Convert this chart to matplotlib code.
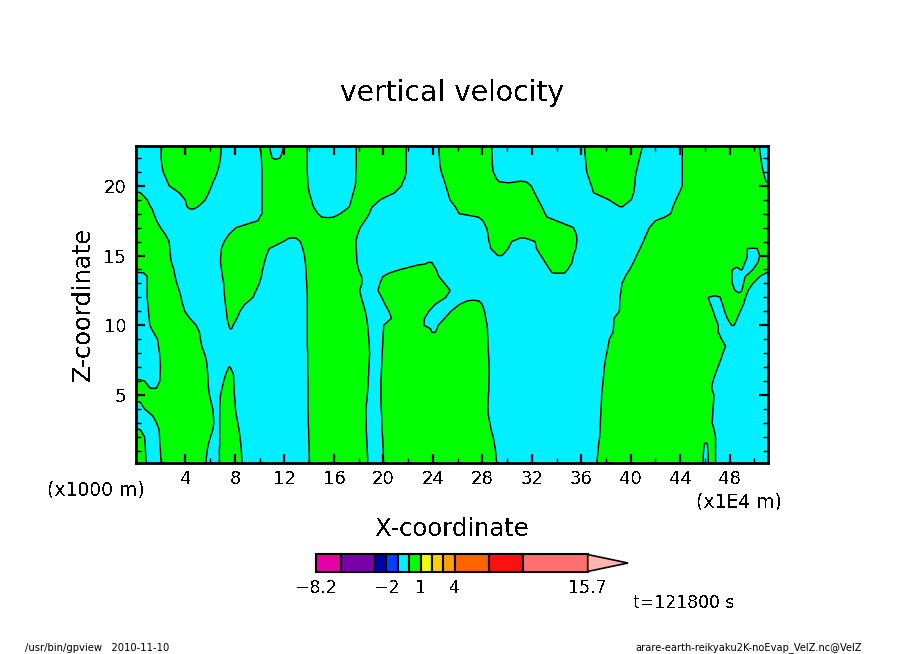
import numpy as np
import matplotlib
matplotlib.use("Agg")
import matplotlib.pyplot as plt

plt.rcParams['text.antialiased'] = False

# heights of the rows
z_rows = [22.85, 22.5, 22, 21.5, 21, 20.5, 20.29, 20, 19.5, 19, 18.5, 18.35, 18, 17.75, 17.5, 17, 16.5, 16.25, 16,
          15.5, 15, 14.75, 14.5, 14, 13.75, 13.5, 13, 12.5, 12, 11.75, 11.5, 11, 10.5, 10, 9.75, 9.5, 9, 8.5, 8,
          7.5, 7, 6.5, 6, 5.5, 5, 4.5, 4, 3.5, 3, 2.5, 2, 1.5, 1, 0.5, 0.125]

# for each row: where the field is positive (start, end, start, end, ...) in x
positive_spans = [
    [2.03, 6.88, 10.0, 10.78, 11.94, 13.83, 17.81, 21.85, 24.46, 28.77, 36.26, 40.94, 44.17, 50.39],
    [2.03, 6.88, 10.08, 10.86, 11.86, 13.85, 17.81, 21.85, 24.49, 28.77, 36.28, 40.86, 44.17, 50.44],
    [2.03, 6.83, 10.14, 11.0, 11.65, 13.85, 17.81, 21.85, 24.54, 28.8, 36.34, 40.72, 44.17, 50.52],
    [2.09, 6.74, 10.16, 13.85, 17.81, 21.85, 24.57, 28.82, 36.39, 40.59, 44.17, 50.6],
    [2.19, 6.58, 10.19, 13.85, 17.78, 21.85, 24.68, 28.88, 36.44, 40.45, 44.17, 50.71],
    [2.44, 6.37, 10.19, 13.88, 17.76, 21.72, 24.87, 29.15, 36.63, 40.35, 44.17, 50.87],
    [2.54, 6.23, 10.19, 13.89, 17.76, 21.58, 24.95, 29.36, 30.73, 31.54, 36.71, 40.35, 44.17, 50.95],
    [2.68, 6.13, 10.19, 13.91, 17.73, 21.47, 25.05, 31.95, 36.82, 40.32, 44.17, 51.1],
    [0, 0.36, 3.49, 5.88, 10.19, 14.01, 17.57, 20.91, 25.22, 32.22, 37.0, 40.24, 43.93, 51.1],
    [0, 0.9, 3.97, 5.61, 10.19, 14.18, 17.41, 19.75, 25.38, 32.51, 38.22, 40.05, 43.66, 51.1],
    [0, 1.17, 4.13, 5.02, 10.19, 14.34, 17.25, 19.13, 25.81, 32.81, 39.11, 39.33, 43.42, 51.1],
    [0, 1.3, 4.32, 4.7, 10.19, 14.45, 17.05, 19.02, 25.91, 32.89, 43.36, 51.1],
    [0, 1.44, 10.19, 14.71, 16.52, 18.86, 26.13, 33.08, 43.23, 51.1],
    [0, 1.55, 10.0, 15.03, 15.98, 18.7, 27.7, 33.24, 42.74, 51.1],
    [0, 1.66, 9.87, 18.51, 28.04, 33.97, 42.01, 51.1],
    [0, 1.98, 8.09, 18.13, 28.34, 35.37, 41.5, 51.1],
    [0, 2.38, 7.5, 17.92, 28.47, 35.61, 41.26, 51.1],
    [0, 2.52, 7.31, 12.4, 12.94, 17.84, 28.5, 31.06, 31.46, 35.64, 41.13, 51.1],
    [0, 2.68, 7.12, 11.91, 13.29, 17.78, 28.55, 30.38, 32.27, 35.64, 41.02, 51.1],
    [0, 2.73, 6.91, 10.78, 13.48, 17.81, 28.69, 30.09, 32.38, 35.56, 40.75, 49.44, 50.23, 51.1],
    [0, 2.79, 6.85, 10.54, 13.61, 17.84, 29.25, 29.6, 32.73, 35.37, 40.48, 49.42, 50.42, 51.1],
    [0, 2.81, 6.84, 10.46, 13.65, 17.85, 32.92, 35.31, 40.35, 49.37, 50.36, 51.1],
    [0, 2.87, 6.83, 10.38, 13.69, 17.86, 23.6, 23.92, 33.08, 35.26, 40.21, 49.23, 50.28, 51.1],
    [0, 3.06, 6.91, 10.24, 13.75, 18.0, 21.39, 24.27, 33.46, 34.91, 39.92, 48.23, 48.83, 49.02, 49.88, 51.1],
    [0.63, 3.11, 6.96, 10.19, 13.76, 18.1, 20.5, 24.38, 33.65, 34.67, 39.73, 48.18, 49.6, 50.93],
    [0.9, 3.16, 6.99, 10.14, 13.77, 18.24, 19.96, 24.49, 39.57, 48.18, 49.26, 50.44],
    [0.9, 3.3, 7.09, 9.97, 13.8, 18.27, 19.72, 24.95, 39.3, 48.21, 49.12, 49.88],
    [0.9, 3.49, 7.12, 9.71, 13.83, 18.08, 19.56, 25.4, 39.22, 48.43, 48.99, 49.5],
    [0.9, 3.65, 7.17, 9.46, 13.85, 18.21, 19.86, 25.05, 39.14, 46.27, 47.24, 49.29],
    [0.93, 3.7, 7.2, 9.14, 13.85, 18.3, 20.0, 24.62, 26.8, 27.72, 39.11, 46.35, 47.32, 49.2],
    [0.96, 3.78, 7.23, 8.79, 13.85, 18.38, 20.13, 24.19, 26.16, 27.99, 39.11, 46.46, 47.43, 49.12],
    [1.01, 3.94, 7.31, 8.41, 13.85, 18.54, 20.45, 23.68, 25.46, 28.18, 39.08, 46.67, 47.59, 48.86],
    [1.06, 4.35, 7.36, 8.17, 13.85, 18.65, 20.66, 23.33, 24.95, 28.28, 38.65, 46.86, 47.8, 48.61],
    [1.12, 4.86, 7.5, 7.85, 13.85, 18.73, 20.02, 23.28, 24.43, 28.39, 38.62, 47.08, 48.15, 48.37],
    [1.25, 5.0, 7.58, 7.74, 13.85, 18.75, 20.02, 23.81, 24.35, 28.42, 38.6, 47.08],
    [1.41, 5.13, 13.85, 18.78, 19.99, 23.92, 24.19, 28.42, 38.57, 47.08],
    [1.74, 5.21, 13.85, 18.83, 19.96, 28.45, 38.27, 47.35],
    [1.82, 5.32, 13.85, 18.86, 19.94, 28.47, 38.17, 47.67],
    [1.9, 5.53, 13.88, 18.89, 19.91, 28.5, 38.06, 47.45],
    [1.95, 5.69, 13.88, 18.86, 19.88, 28.53, 37.95, 47.27],
    [1.98, 5.75, 7.5, 7.61, 13.88, 18.83, 19.86, 28.55, 37.87, 47.05],
    [1.95, 5.8, 7.26, 7.88, 13.88, 18.81, 19.83, 28.55, 37.82, 46.84],
    [0, 0.69, 1.93, 5.83, 7.09, 7.9, 13.91, 18.78, 19.8, 28.53, 37.76, 46.65],
    [0, 1.14, 1.66, 5.86, 6.96, 7.93, 13.91, 18.75, 19.8, 28.53, 37.71, 46.54],
    [0, 5.94, 6.83, 7.96, 13.91, 18.7, 19.8, 28.5, 37.65, 46.73],
    [0.34, 6.07, 6.8, 8.01, 13.91, 18.65, 19.8, 28.47, 37.63, 46.7],
    [0.69, 6.21, 6.77, 8.04, 13.91, 18.59, 19.83, 28.45, 37.6, 46.65],
    [1.36, 6.26, 6.77, 8.12, 13.93, 18.59, 19.86, 28.5, 37.57, 46.62],
    [1.66, 6.29, 6.77, 8.23, 13.93, 18.62, 19.88, 28.61, 37.55, 46.59],
    [0, 0.36, 1.87, 6.21, 6.77, 8.33, 13.96, 18.62, 19.88, 28.72, 37.52, 46.75],
    [0, 0.69, 1.9, 6.02, 6.77, 8.41, 13.96, 18.65, 19.94, 28.88, 37.49, 46.86],
    [0, 0.74, 1.93, 5.86, 6.77, 8.47, 13.99, 18.67, 19.96, 28.98, 37.41, 45.95, 46.19, 46.86],
    [0, 0.77, 1.98, 5.75, 6.74, 8.52, 13.99, 18.7, 19.99, 29.07, 37.36, 45.89, 46.24, 46.86],
    [0, 0.79, 2.0, 5.69, 6.74, 8.55, 14.01, 18.73, 19.99, 29.12, 37.3, 45.86, 46.27, 46.86],
    [0, 0.82, 2.03, 5.67, 6.74, 8.58, 14.01, 18.73, 20.02, 29.18, 37.25, 45.86, 46.27, 46.86],
]

# colour bar
bar_levels = [-8.2, -6, -3, -2, -1, 0, 1, 2, 3, 4, 7, 10, 15.7]
bar_colors = ['#e600a8', '#7a00a8', '#0000a8', '#0040ff', '#00f0ff', '#00ff00',
              '#f0ff00', '#ffd000', '#ffa000', '#ff6400', '#ff1010', '#ff7070']
bar_over = '#ffb4b4'
bar_ticks = [-8.2, -2, 1, 4, 15.7]
bar_ticklabels = ['\u22128.2', '\u22122', '1', '4', '15.7']

x_ticks = [4, 8, 12, 16, 20, 24, 28, 32, 36, 40, 44, 48]
z_ticks = [5, 10, 15, 20]

W, H = 904, 654
x_min, x_max = 0, 51.1
z_min, z_max = 0.125, 22.85


def row_field(x, spans):
    # signed distance to the nearest sign change, domain ends do not count
    edges = np.array([e for e in spans if x_min < e < x_max])
    dist = np.min(np.abs(x[:, None] - edges), axis=1)
    inside = np.zeros_like(x, dtype=bool)
    for a, b in zip(spans[0::2], spans[1::2]):
        inside |= (x >= a) & (x <= b)
    return np.where(inside, dist, -dist)


def px_axes(left, top, right, bottom):
    return fig.add_axes([left / W, 1 - bottom / H, (right - left) / W, (bottom - top) / H])


def px_text(x, y, s, **kw):
    kw.setdefault('ha', 'center')
    kw.setdefault('va', 'center')
    fig.text(x / W, 1 - y / H, s, color='black', **kw)


x = np.linspace(x_min, x_max, 1023)
z = np.array(z_rows)[::-1]
field = np.array([row_field(x, s) for s in positive_spans[::-1]])

fig = plt.figure(figsize=(W / 100, H / 100), dpi=100)

ax = px_axes(136, 146, 768, 463)
ax.contourf(x, z, field, levels=[-100, 0, 100], colors=['#00f0ff', '#00ff00'])
ax.contour(x, z, field, levels=[0], colors='black', linewidths=1.0)
ax.set_xlim(x_min, x_max)
ax.set_ylim(z_min, z_max)
ax.set_xticks(x_ticks)
ax.set_xticks(np.arange(2, 52, 4), minor=True)
ax.set_yticks(z_ticks)
ax.set_yticks(np.arange(1, 23), minor=True)
ax.tick_params(which='major', direction='in', length=6.5, width=1.6, top=True, right=True,
               labelsize=13)
ax.tick_params(axis='x', which='major', pad=5)
ax.tick_params(axis='y', which='major', pad=7)
ax.tick_params(which='minor', direction='in', length=3.5, width=1, top=True, right=True)
for sp in ax.spines.values():
    sp.set_linewidth(2)

px_text(452, 93, 'vertical velocity', fontsize=20.3)
px_text(83, 304, 'Z-coordinate', fontsize=17.4, rotation=90)
px_text(452, 529, 'X-coordinate', fontsize=17.5)
px_text(96, 490, '(x1000 m)', fontsize=13.5)
px_text(739, 502, '(x1E4 m)', fontsize=13.5)
px_text(684, 603, 't=121800 s', fontsize=12.4)
px_text(25, 648, '/usr/bin/gpview   2010-11-10', fontsize=7.2, ha='left', antialiased=True)
px_text(862, 648, 'arare-earth-reikyaku2K-noEvap_VelZ.nc@VelZ', fontsize=7.1, ha='right', antialiased=True)

# colour bar axis shares the levels scale, the arrow runs past the last level
cax = px_axes(316, 554, 628, 572)
cax.set_xlim(bar_levels[0], bar_levels[0] + (628 - 316) / 11.37)
cax.set_ylim(0, 1)
for i, c in enumerate(bar_colors):
    cax.barh(0.5, bar_levels[i + 1] - bar_levels[i], left=bar_levels[i], height=1,
             color=c, edgecolor='black', linewidth=1.5, clip_on=False)
cax.fill([bar_levels[-1], cax.get_xlim()[1], bar_levels[-1]], [0.97, 0.5, 0.03],
         facecolor=bar_over, edgecolor='black', linewidth=1.2, clip_on=False)
cax.set_xticks(bar_ticks)
cax.set_xticklabels(bar_ticklabels, fontsize=12.5)
cax.tick_params(length=0, pad=5)
cax.set_yticks([])
for sp in cax.spines.values():
    sp.set_visible(False)

fig.savefig('out.png', dpi=100)
